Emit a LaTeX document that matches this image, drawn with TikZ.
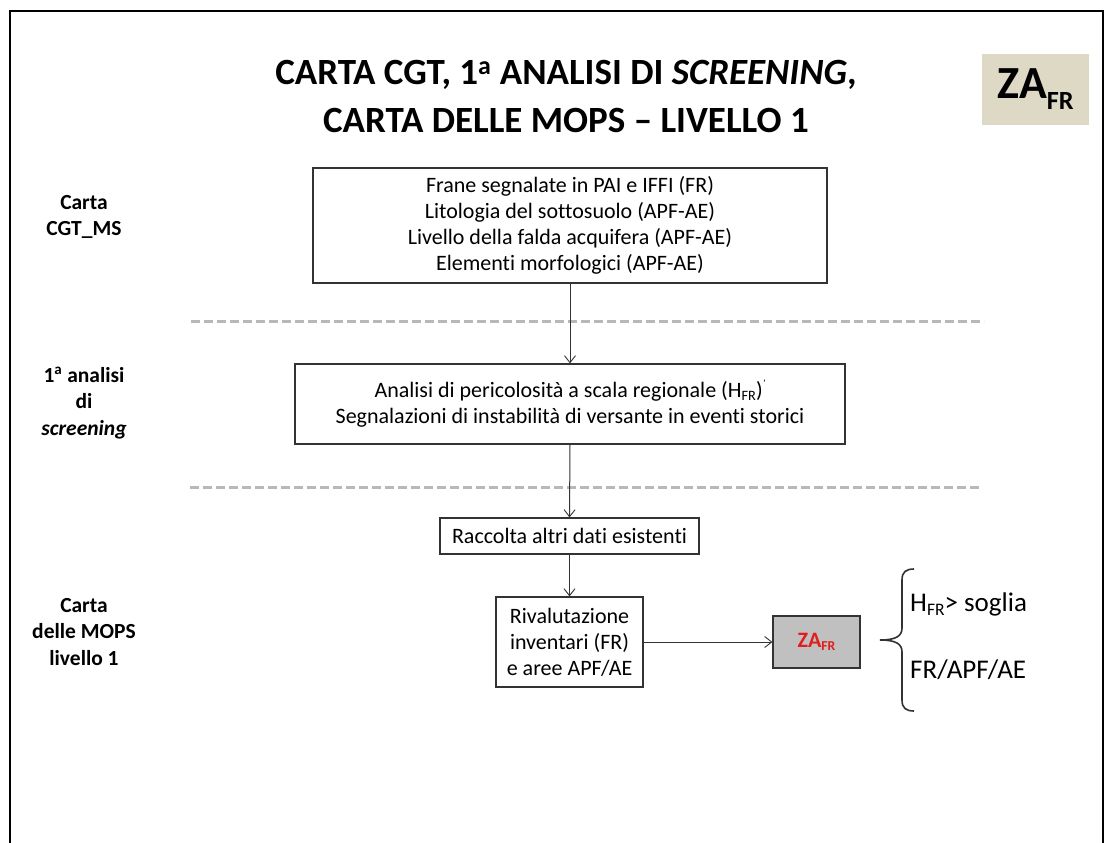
\documentclass[tikz,border=0pt]{standalone}
\usepackage{fontspec}
\usepackage{graphicx}
\setmainfont{Carlito}[Ligatures=NoCommon]
\usetikzlibrary{arrows.meta}
\definecolor{boxline}{HTML}{333333}
\definecolor{sepgray}{HTML}{B8B8B8}
\definecolor{tagfill}{HTML}{DDD9C4}
\definecolor{zafill}{HTML}{C0C0C0}
\definecolor{zared}{HTML}{E01E1E}
% lowered, reduced index text
\newcommand{\lowidx}[3]{\raisebox{-#2em}{\scalebox{#1}{#3}}}
\tikzset{
  stepbox/.style={draw=boxline, line width=1.2pt, align=center, inner sep=0pt,
    font=\fontsize{22}{26}\selectfont},
  sidelabel/.style={align=center, font=\bfseries\fontsize{21.5}{26.5}\selectfont},
  flow/.style={draw=boxline, line width=1pt, -{Straight Barb[length=7pt,width=11pt,line width=0.9pt]}},
  separator/.style={draw=sepgray, line width=3pt, dash pattern=on 9pt off 4pt},
  condition/.style={anchor=west, inner sep=0pt, font=\fontsize{27}{30}\selectfont},
}
\begin{document}
\begin{tikzpicture}[x=1pt,y=-1pt]
\useasboundingbox (0,0) rectangle (1112,843);
\fill[white] (0,0) rectangle (1112,843);
% frame
\draw[line width=2pt, black] (10,843) -- (10,11) -- (1103,11) -- (1103,843);

% title
\node[align=center, font=\bfseries\fontsize{37}{48}\selectfont] (title) at (566,96)
  {CARTA CGT, 1\textsuperscript{a} ANALISI DI \textit{SCREENING},\\CARTA DELLE MOPS -- LIVELLO 1};

% tag in the upper right corner
\node[fill=tagfill, minimum width=107pt, minimum height=71pt, inner sep=0pt,
  font=\bfseries\fontsize{46}{48}\selectfont] (tag) at (1035.5,89.5)
  {ZA\lowidx{0.57}{0.24}{FR}};

% left column labels
\node[sidelabel] (lab1) at (84,217) {Carta\\CGT\_MS};
\node[sidelabel] (lab2) at (84,403) {1\textsuperscript{a} analisi\\di\\\textit{screening}};
\node[sidelabel] (lab3) at (84,632) {Carta\\delle MOPS\\livello 1};

% flow boxes
\node[stepbox, minimum width=514pt, minimum height=115pt] (b1) at (570,225.5)
  {Frane segnalate in PAI e IFFI (FR)\\Litologia del sottosuolo (APF-AE)\\Livello della falda acquifera (APF-AE)\\Elementi morfologici (APF-AE)};
\node[stepbox, minimum width=550pt, minimum height=80pt] (b2) at (570,404)
  {Analisi di pericolosità a scala regionale (H\lowidx{0.65}{0.12}{FR})\raisebox{0.45em}{\fontsize{11}{11}\selectfont\itshape ’}\\Segnalazioni di instabilità di versante in eventi storici};
\node[stepbox, minimum width=259pt, minimum height=36pt] (b3) at (569.5,536)
  {Raccolta altri dati esistenti};
\node[stepbox, minimum width=147pt, minimum height=90pt] (b4) at (569.5,642)
  {Rivalutazione\\inventari (FR)\\e aree APF/AE};
\node[draw=boxline, line width=1.2pt, fill=zafill, minimum width=87pt, minimum height=52pt,
  inner sep=0pt, text=zared, font=\bfseries\fontsize{22}{24}\selectfont] (za) at (816.5,642)
  {ZA\lowidx{0.62}{0.15}{FR}};

% separators between the levels
\draw[separator] (191,321) -- (984,321);
\draw[separator] (190,487) -- (982,487);

% connectors
\draw[flow] (b1.south) -- (b2.north);
\draw[flow] (b2.south) -- (b3.north);
\draw[flow] (b3.south) -- (b4.north);
\draw[flow] (b4.east) -- (za.west);

% brace and conditions
\coordinate (tip) at (880,640);
\draw[line width=1.6pt, boxline] (914,569) .. controls (906,569) and (902,572) .. (902,580)
  -- (902,628) .. controls (902,636) and (896,640) .. (tip)
  .. controls (896,640) and (902,644) .. (902,652)
  -- (902,700) .. controls (902,708) and (906,711) .. (914,711);
\node[condition] (c1) at (910,604) {H\lowidx{0.65}{0.15}{FR}> soglia};
\node[condition] (c2) at (910,670) {FR/APF/AE};
\end{tikzpicture}
\end{document}
